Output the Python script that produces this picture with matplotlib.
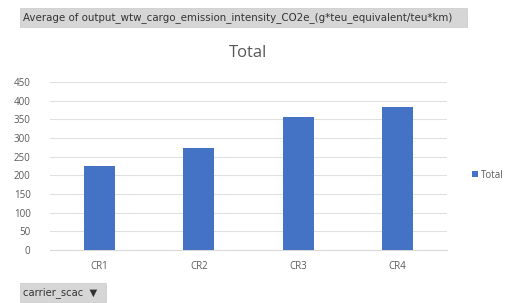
import matplotlib
matplotlib.use("Agg")
import matplotlib.pyplot as plt
from matplotlib.patches import Rectangle

categories = ["CR1", "CR2", "CR3", "CR4"]
values = [225, 273, 356, 383]
series_name = "Total"
yticks = [0, 50, 100, 150, 200, 250, 300, 350, 400, 450]
field_label = "Average of output_wtw_cargo_emission_intensity_CO2e_(g*teu_equivalent/teu*km)"
axis_field = "carrier_scac"

plt.rcParams['font.family'] = ['Open Sans', 'DejaVu Sans']
W, H = 521, 303
fig = plt.figure(figsize=(W/100, H/100), dpi=100)
fig.patch.set_facecolor("white")

ax = fig.add_axes([50/W, 1-250/H, 397/W, 168/H])
x = range(len(categories))
ax.bar(x, values, width=0.31, color="#4472C4", label=series_name, zorder=3)
ax.set_xlim(-0.5, len(categories)-0.5)
ax.set_ylim(0, 450)
ax.set_yticks(yticks)
ax.set_xticks(list(x))
ax.set_xticklabels(categories)
ax.grid(axis="y", color="#e0e0e0", linewidth=0.8, zorder=0)
for s in ["top", "right", "left"]:
    ax.spines[s].set_visible(False)
ax.spines["bottom"].set_color("#d9d9d9")
ax.tick_params(axis="both", length=0, colors="#595959", labelsize=7)
ax.tick_params(axis="y", pad=14)
ax.tick_params(axis="x", pad=8)
ax.set_title("Total", fontsize=12, color="#595959", pad=18)

fig.legend(loc="center left", bbox_to_anchor=(463/W, 1-175/H), frameon=False,
           fontsize=7, handlelength=0.6, handleheight=0.6, handletextpad=0.3,
           labelcolor="#595959")

# top field label box
fig.patches.append(Rectangle((20/W, 1-27/H), 447/W, 19/H, transform=fig.transFigure,
                             facecolor="#d6d6d6", edgecolor="#c8c8c8", linewidth=0.5))
fig.text(23/W, 1-17.5/H, field_label, fontsize=7.4, color="#333333", va="center",
         ha="left", family=['DejaVu Sans'])

# bottom axis field button
fig.patches.append(Rectangle((20/W, 1-302/H), 86/W, 19/H, transform=fig.transFigure,
                             facecolor="#d6d6d6", edgecolor="#c8c8c8", linewidth=0.5))
fig.text(23/W, 1-292.5/H, axis_field + "  \u25BC", fontsize=7.2, color="#333333",
         va="center", ha="left", family=['DejaVu Sans'])

fig.savefig("out.png", dpi=100)
